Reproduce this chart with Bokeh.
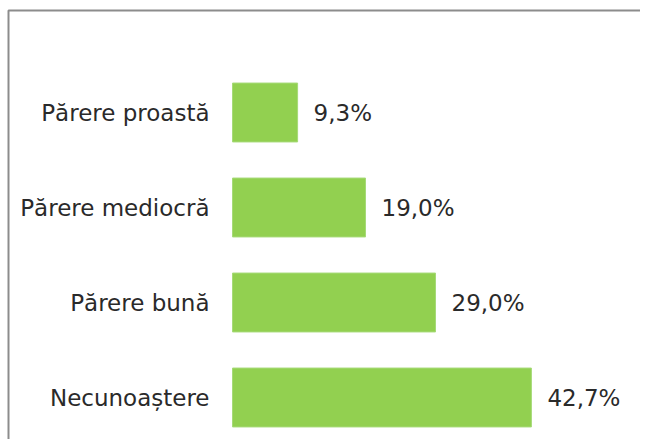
from bokeh.plotting import figure
from bokeh.models import ColumnDataSource, Range1d
from bokeh.embed import file_html
from bokeh.resources import INLINE
from bokeh.core.properties import value

categories = ["Necunoaștere", "Părere bună", "Părere mediocră", "Părere proastă"]
values = [42.7, 29.0, 19.0, 9.3]
labels = ["42,7%", "29,0%", "19,0%", "9,3%"]

W, H = 640, 439
px_per_unit_x = 7.0
bar_left_px = 232
px_per_cat = 95.0
bottom_center_px = H - 397  # from bottom of frame

x0 = -bar_left_px / px_per_unit_x
x1 = (W - bar_left_px) / px_per_unit_x
y0 = -bottom_center_px / px_per_cat
y1 = y0 + H / px_per_cat

pos = list(range(len(categories)))
src = ColumnDataSource(dict(y=pos, v=values, cat=categories, lab=labels,
                            zero=[0] * len(pos)))

p = figure(width=W, height=H, output_backend="svg", toolbar_location=None,
           x_range=Range1d(x0, x1), y_range=Range1d(y0, y1),
           min_border=0, min_border_left=0, min_border_right=0,
           min_border_top=0, min_border_bottom=0)
p.axis.visible = False
p.grid.visible = False
p.outline_line_color = None
p.background_fill_color = "white"
p.border_fill_color = "white"

p.hbar(y="y", left=0, right="v", height=0.62, source=src,
       fill_color="#92D050", line_color="#A6DA78", line_width=1)

font = value("DejaVu Sans")
p.text(x="zero", y="y", text="cat", source=src, x_offset=-23,
       text_align="right", text_baseline="middle", text_font=font,
       text_font_size="23px", text_color="#2a2a2a")
p.text(x="v", y="y", text="lab", source=src, x_offset=16,
       text_align="left", text_baseline="middle", text_font=font,
       text_font_size="23px", text_color="#2a2a2a")

# chart-area border (top and left edges only, as in the cropped original)
bx = x0 + 8 / px_per_unit_x
by = y1 - 10 / px_per_cat
p.line(x=[bx, bx, x1], y=[y0, by, by], line_color="#8c8c8c",
       line_width=2)

open("out.html", "w").write(file_html(p, INLINE))
